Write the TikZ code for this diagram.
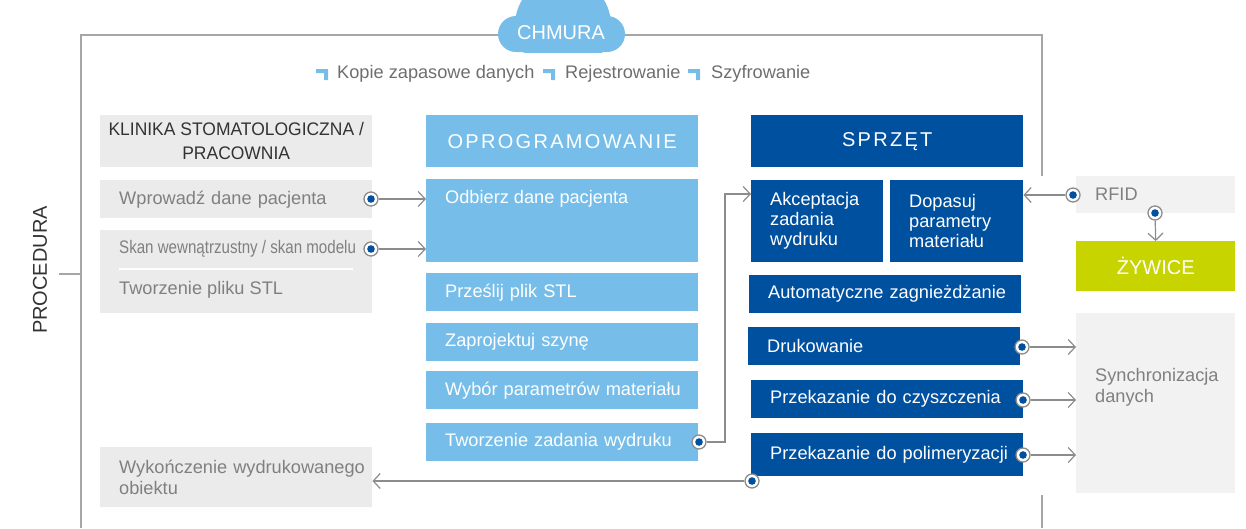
\documentclass[tikz,border=0pt]{standalone}
\usepackage{fontspec}
\setmainfont{Liberation Sans}
\newfontfamily\condfont[FakeStretch=0.83]{Liberation Sans}
\newfontfamily\narrowfont[FakeStretch=0.96]{Liberation Sans}
\newfontfamily\spacedfont[LetterSpace=11.5]{Liberation Sans}
\usetikzlibrary{arrows.meta}

\definecolor{softblue}{HTML}{76BEE9}
\definecolor{hardblue}{HTML}{0050A0}
\definecolor{resinlime}{HTML}{C8D400}
\definecolor{clinicgray}{HTML}{EBEBEB}
\definecolor{sidegray}{HTML}{F2F2F2}
\definecolor{framegray}{HTML}{A6A6A6}
\definecolor{wiregray}{HTML}{8C8C8C}
\definecolor{textgray}{HTML}{808080}
\definecolor{legendgray}{HTML}{6E6E6E}
\definecolor{darkgray}{HTML}{333333}

\newcommand{\bodysize}{\fontsize{18.2}{20}\selectfont}
\newcommand{\headsize}{\fontsize{20}{24}\selectfont}

\begin{document}
\begin{tikzpicture}[x=1pt,y=-1pt,
        cell/.style={anchor=north west,inner ysep=0pt,inner xsep=19pt,align=left,font=\bodysize},
        clinic/.style={cell,fill=clinicgray,text=textgray,text width=234pt},
        soft/.style={cell,fill=softblue,text=white,text width=234pt},
        hard/.style={cell,fill=hardblue,text=white,text width=234pt},
        sidebox/.style={cell,fill=sidegray,text=textgray,text width=121pt},
        headbox/.style={anchor=north west,inner sep=0pt,minimum width=272pt,minimum height=52pt},
        port/.style={circle,draw=wiregray,line width=1.3pt,fill=white,inner sep=0pt,minimum size=14pt,
            path picture={\fill[hardblue] (path picture bounding box.center) circle (3.8pt);}},
        wire/.style={draw=wiregray,line width=1.2pt,-{Straight Barb[length=7pt,width=15pt]}},
        legtick/.pic={\fill[softblue] (-6,-5) -- (6,-5) -- (6,6) -- (2,6) -- (2,-1) -- (-6,-1) -- cycle;}]
        \useasboundingbox (0,0) rectangle (1246,528);
        %% frame
        \draw[framegray,line width=1.5pt] (81,528) -- (81,35) -- (1042,35) -- (1042,176);
        \draw[framegray,line width=1.5pt] (1042,495) -- (1042,528);
        \draw[framegray,line width=1.2pt] (59,274) -- (81,274);
        \node[rotate=90,font=\headsize,text=darkgray] (procedura) at (40,270) {PROCEDURA};
        %% cloud
        \begin{scope}
            \clip (480,-10) rectangle (640,52);
            \fill[softblue] (563,25) circle (48);
            \fill[softblue,rounded corners=18pt] (498,16) rectangle (625,52);
        \end{scope}
        \node[font=\headsize,text=white] (chmura) at (561,33) {CHMURA};
        %% legend
        \pic at (322,74) {legtick};
        \node[anchor=west,inner sep=0pt,font=\bodysize,text=legendgray] (kopie) at (337,74) {Kopie zapasowe danych};
        \pic at (549,74) {legtick};
        \node[anchor=west,inner sep=0pt,font=\bodysize,text=legendgray] (rejestr) at (565,74) {Rejestrowanie};
        \pic at (694,74) {legtick};
        \node[anchor=west,inner sep=0pt,font=\bodysize,text=legendgray] (szyfr) at (711,74) {Szyfrowanie};
        %% clinic / lab
        \node[headbox,fill=clinicgray,text=darkgray,align=center,font=\narrowfont\fontsize{18.2}{24}\selectfont] (klinika) at (100,115) {KLINIKA STOMATOLOGICZNA /\\PRACOWNIA};
        \node[clinic,minimum height=38pt] (wprowadz) at (100,180) {Wprowadź dane pacjenta};
        \node[clinic,minimum height=83pt] (skan) at (100,230) {};
        \node[anchor=west,inner sep=0pt,font=\condfont\bodysize,text=textgray] (skantxt) at (119,249) {Skan wewnątrzustny / skan modelu};
        \draw[white,line width=1.5pt] (119,269) -- (353,269);
        \node[anchor=west,inner sep=0pt,font=\bodysize,text=textgray] (stltxt) at (119,290) {Tworzenie pliku STL};
        \node[clinic,minimum height=60pt,font=\fontsize{18.2}{21}\selectfont] (wykon) at (100,447) {\mbox{Wykończenie wydrukowanego}\\obiektu};
        %% software
        \node[headbox,fill=softblue,text=white,font=\spacedfont\headsize] (oprog) at (426,115) {OPROGRAMOWANIE};
        \node[soft,minimum height=83pt] (odbierz) at (426,179) {};
        \node[anchor=west,inner sep=0pt,font=\bodysize,text=white] (odbtxt) at (445,199) {Odbierz dane pacjenta};
        \node[soft,minimum height=38pt] (przeslij) at (426,273) {Prześlij plik STL};
        \node[soft,minimum height=38pt] (zaproj) at (426,323) {Zaprojektuj szynę};
        \node[soft,minimum height=38pt] (wybor) at (426,371) {\mbox{Wybór parametrów materiału}};
        \node[soft,minimum height=38pt] (tworz) at (426,423) {Tworzenie zadania wydruku};
        %% hardware
        \node[headbox,fill=hardblue,text=white,font=\spacedfont\headsize] (sprzet) at (751,115) {SPRZĘT};
        \node[hard,text width=94pt,minimum height=82pt] (akcept) at (751,180) {Akceptacja\\zadania\\wydruku};
        \node[hard,text width=95pt,minimum height=82pt] (dopasuj) at (890,180) {Dopasuj\\parametry\\materiału};
        \node[hard,minimum height=38pt] (auto) at (749,275) {\mbox{Automatyczne zagnieżdżanie}};
        \node[hard,minimum height=38pt] (druk) at (748,327) {Drukowanie};
        \node[hard,minimum height=38pt] (czysz) at (751,380) {Przekazanie do czyszczenia};
        \node[hard,minimum height=43pt] (polim) at (751,433) {\mbox{Przekazanie do polimeryzacji}};
        %% resin + sync
        \node[sidebox,minimum height=37pt] (rfid) at (1076,176) {RFID};
        \node[anchor=north west,fill=resinlime,text=white,minimum width=159pt,minimum height=50pt,inner sep=0pt,font=\headsize] (zywice) at (1076,241) {ŻYWICE};
        \node[sidebox,minimum height=180pt] (sync) at (1076,313) {};
        \node[anchor=west,inner sep=0pt,align=left,font=\fontsize{18.2}{21}\selectfont,text=textgray] (synctxt) at (1095,387) {Synchronizacja\\danych};
        %% ports
        \node[port] (pW) at (371,199) {};
        \node[port] (pS) at (371,249) {};
        \node[port] (pT) at (699,442) {};
        \node[port] (pB) at (752,481) {};
        \node[port] (pR) at (1073,195) {};
        \node[port] (pZ) at (1155,213) {};
        \node[port] (pD) at (1022,347) {};
        \node[port] (pC) at (1023,400) {};
        \node[port] (pP) at (1023,455) {};
        \coordinate (bend) at (725,194);
        %% wires
        \draw[wire] (pW) -- (odbierz.west |- pW);
        \draw[wire] (pS) -- (odbierz.west |- pS);
        \draw[wire] (pT) -| (bend) -- (akcept.west |- bend);
        \draw[wire] (pB) -- (wykon.east |- pB);
        \draw[wire] (pR) -- (dopasuj.east |- pR);
        \draw[wire] (pZ) -- (zywice.north);
        \draw[wire] (pD) -- (sync.west |- pD);
        \draw[wire] (pC) -- (sync.west |- pC);
        \draw[wire] (pP) -- (sync.west |- pP);
    \end{tikzpicture}
\end{document}
